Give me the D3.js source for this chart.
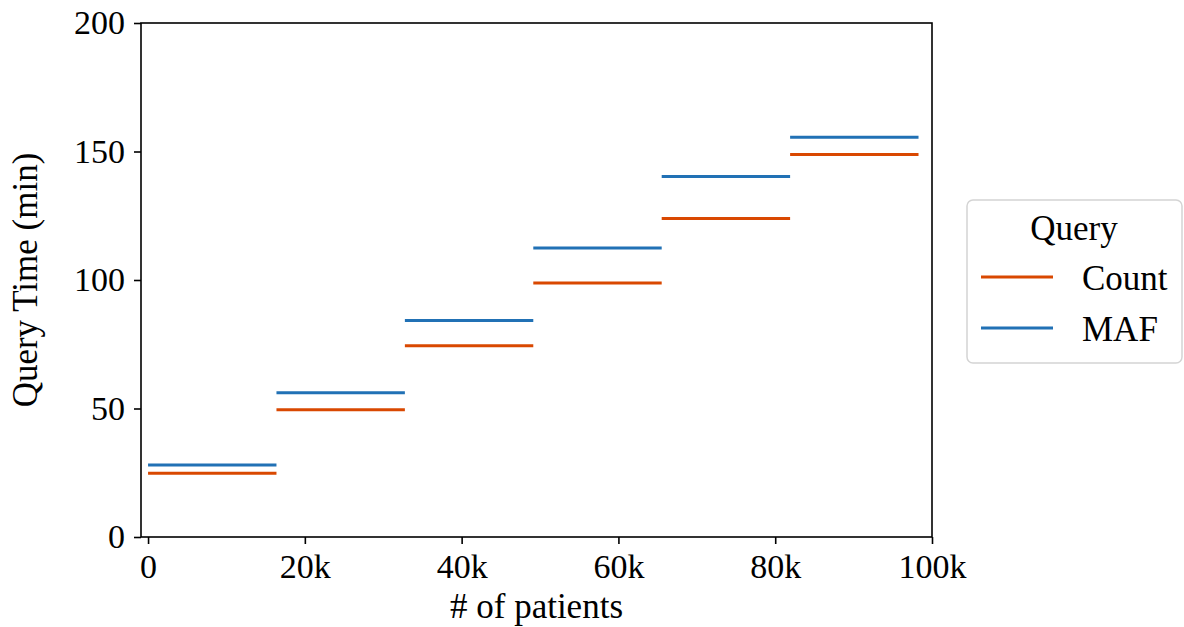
<!DOCTYPE html>
<html>
<head>
<meta charset="utf-8">
<script src="https://cdn.jsdelivr.net/npm/d3@7"></script>
<style>
  html, body { margin: 0; padding: 0; background: #fff; }
  svg text { font-family: "Liberation Serif", "DejaVu Serif", serif; fill: #000; }
</style>
</head>
<body>
<svg id="chart" width="1184" height="627"></svg>
<script>
// Patient-count buckets (start/end, in patients) and query times in minutes
const bucketStart = [0, 16380, 32760, 49140, 65520, 81900];
const bucketEnd   = [16380, 32760, 49140, 65520, 81900, 98280];
const countTimes  = [24.8, 49.5, 74.4, 98.8, 123.9, 148.8];
const mafTimes    = [28.0, 56.1, 84.2, 112.5, 140.3, 155.5];
const seriesNames = ["Count", "MAF"];
const seriesColors = ["#d94801", "#2171b5"];
const xTicks = [0, 20000, 40000, 60000, 80000, 100000];
const yTicks = [0, 50, 100, 150, 200];

const svg = d3.select("#chart");
const plot = { left: 141, right: 932, top: 23, bottom: 537 };

const x = d3.scaleLinear().domain([-900, 100000]).range([plot.left, plot.right]);
const y = d3.scaleLinear().domain([0, 200]).range([plot.bottom, plot.top]);

const series = [countTimes, mafTimes].map((vals, si) => ({
  name: seriesNames[si],
  color: seriesColors[si],
  segs: vals.map((v, i) => ({ x0: bucketStart[i], x1: bucketEnd[i], v }))
}));

// step segments
const g = svg.append("g");
series.forEach(s => {
  g.selectAll(null).data(s.segs).enter().append("line")
    .attr("x1", d => x(d.x0)).attr("x2", d => x(d.x1))
    .attr("y1", d => y(d.v)).attr("y2", d => y(d.v))
    .attr("stroke", s.color).attr("stroke-width", 3);
});

// frame
svg.append("rect")
  .attr("x", plot.left).attr("y", plot.top)
  .attr("width", plot.right - plot.left).attr("height", plot.bottom - plot.top)
  .attr("fill", "none").attr("stroke", "#000").attr("stroke-width", 1.6);

// axes
const fmtK = d => d === 0 ? "0" : (d / 1000) + "k";
const xAxis = svg.append("g").attr("transform", `translate(0,${plot.bottom})`)
  .call(d3.axisBottom(x).tickValues(xTicks).tickFormat(fmtK).tickSize(7).tickPadding(10));
const yAxis = svg.append("g").attr("transform", `translate(${plot.left},0)`)
  .call(d3.axisLeft(y).tickValues(yTicks).tickSize(7).tickPadding(9));
[xAxis, yAxis].forEach(a => {
  a.select(".domain").remove();
  a.selectAll(".tick line").attr("stroke", "#000").attr("stroke-width", 1.6);
  a.selectAll(".tick text").attr("font-size", 34).attr("fill", "#000")
    .style("font-family", '"Liberation Serif", "DejaVu Serif", serif');
});

// axis titles
svg.append("text")
  .attr("x", (plot.left + plot.right) / 2).attr("y", 618)
  .attr("text-anchor", "middle").attr("font-size", 35)
  .text("# of patients");
svg.append("text")
  .attr("transform", `translate(37,${(plot.top + plot.bottom) / 2}) rotate(-90)`)
  .attr("text-anchor", "middle").attr("font-size", 35)
  .text("Query Time (min)");

// legend
const lg = svg.append("g").attr("transform", "translate(967,200)");
lg.append("rect").attr("width", 215).attr("height", 163).attr("rx", 6)
  .attr("fill", "#fff").attr("stroke", "#d4d4d4").attr("stroke-width", 1.5);
lg.append("text").attr("x", 107).attr("y", 40).attr("text-anchor", "middle")
  .attr("font-size", 35).text("Query");
series.forEach((s, i) => {
  const yy = 77 + i * 51;
  lg.append("line").attr("x1", 14).attr("x2", 86).attr("y1", yy).attr("y2", yy)
    .attr("stroke", s.color).attr("stroke-width", 3);
  lg.append("text").attr("x", 115).attr("y", yy + 13).attr("font-size", 35).text(s.name);
});
</script>
</body>
</html>
